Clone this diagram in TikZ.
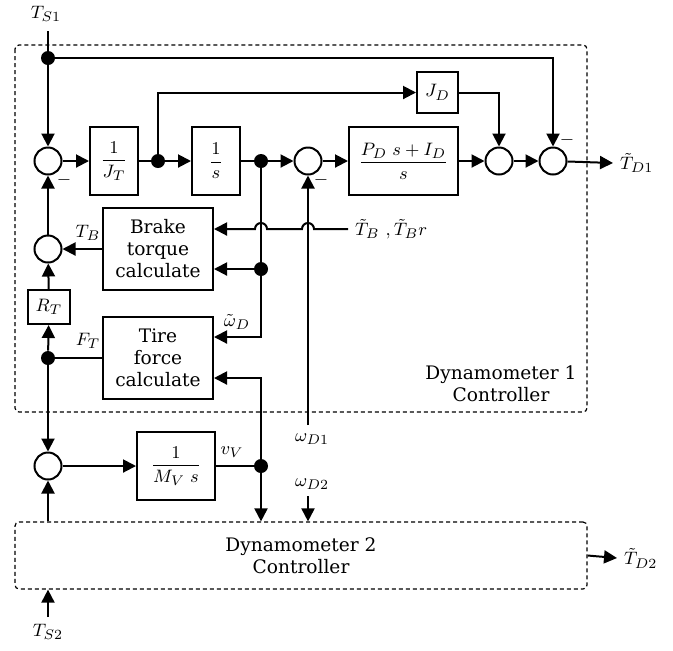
\documentclass[tikz,border=0pt]{standalone}
\usepackage{amsmath}
\usepackage{fontspec}
\setmainfont{DejaVu Serif}
\usetikzlibrary{arrows.meta}
\tikzset{blk/.style={draw,line width=1pt,inner sep=1pt,align=center},
sumc/.style={circle,draw,line width=1pt,minimum size=13.5pt,inner sep=0pt},
dot/.style={circle,fill,minimum size=7pt,inner sep=0pt},
wire/.style={line width=1pt},
sig/.style={-{Triangle[length=6.5pt,width=6.5pt]},line width=1pt},
ctrl/.style={draw,dash pattern=on 2pt off 1.5pt,line width=0.6pt,rounded corners=2pt}}

\begin{document}
\begin{tikzpicture}[x=0.5pt,y=-0.5pt,font=\fontsize{9.3pt}{11pt}\selectfont]
\useasboundingbox (0,0) rectangle (673,650);
\draw[ctrl] (15,45) rectangle (587,412);
\node[align=center] (dyn1) at (501,384) {Dynamometer 1\\Controller};
\node[ctrl,minimum width=286pt,minimum height=33.5pt,align=center] (dyn2) at (301,555.5) {Dynamometer 2\\Controller};
% summing junctions and branch points
\node[sumc] (s1) at (48,161) {};
\node[sumc] (s2) at (48,249) {};
\node[sumc] (s3) at (308,161) {};
\node[sumc] (s4) at (499,161) {};
\node[sumc] (s5) at (553,161) {};
\node[sumc] (s6) at (48,466) {};
\node[dot] (d1) at (48,58) {};
\node[dot] (d2) at (158,161) {};
\node[dot] (d3) at (261,161) {};
\node[dot] (d4) at (261,269) {};
\node[dot] (d5) at (48,358) {};
\node[dot] (d6) at (261,466) {};
% blocks
\node[blk,minimum width=24pt,minimum height=34pt] (JT) at (114,161) {$\dfrac{1}{J_T}$};
\node[blk,minimum width=24pt,minimum height=34pt] (Is) at (216,161) {$\dfrac{1}{s}$};
\node[blk,minimum width=54.5pt,minimum height=34pt] (PI) at (403.5,161) {$\dfrac{P_D\;s+I_D}{s}$};
\node[blk,minimum width=20.5pt,minimum height=20.5pt] (JD) at (437.5,92.5) {$J_D$};
\node[blk,minimum width=55pt,minimum height=41pt] (brake) at (158,249) {Brake\\torque\\calculate};
\node[blk,minimum width=55pt,minimum height=41pt] (tire) at (158,358) {Tire\\force\\calculate};
\node[blk,minimum width=21pt,minimum height=17pt] (RT) at (49,307) {$R_T$};
\node[blk,minimum width=39pt,minimum height=34pt] (MV) at (176,466) {$\dfrac{1}{M_V\;s}$};
% signal labels
\node (ts1) at (46,14) {$T_{S1}$};
\node (ts2) at (48,632) {$T_{S2}$};
\node[anchor=west] (td1) at (613,163) {$\tilde{T}_{D1}$};
\node[anchor=west] (td2) at (617,558) {$\tilde{T}_{D2}$};
\node (lTB) at (88,233) {$T_B$};
\node (lFT) at (88,341) {$F_T$};
\node (lwd) at (237,322) {$\tilde{\omega}_D$};
\node (lvv) at (232,452) {$v_V$};
\node[anchor=west] (ltb) at (348,229) {$\tilde{T}_B\ ,\tilde{T}_B r$};
\node (wd1) at (312,439) {$\omega_{D1}$};
\node (wd2) at (312,484) {$\omega_{D2}$};
\node at (64,180) {$-$};
\node at (321,180) {$-$};
\node at (567,140) {$-$};
\coordinate (in1) at (48,31);
\coordinate (in2) at (48,617);
\coordinate (w1) at (308,425);
\coordinate (w2) at (308,496);
% connectors
\draw[sig] (in1) -- (s1);
\draw[sig] (d1) -| (s5);
\draw[sig] (s1) -- (JT);
\draw[wire] (JT) -- (d2);
\draw[sig] (d2) -- (Is);
\draw[sig] (d2) |- (JD);
\draw[sig] (JD) -| (s4);
\draw[wire] (Is) -- (d3);
\draw[sig] (d3) -- (s3);
\draw[sig] (s3) -- (PI);
\draw[sig] (PI) -- (s4);
\draw[sig] (s4) -- (s5);
\draw[sig] (s5) -- (td1.west);
\draw[wire] (d3) -- (d4);
\draw[sig] (d4) -- (brake.east |- d4);
\draw[sig] (d4) |- ([yshift=10.5pt]tire.east);
\draw[sig] (ltb.west) -- (314,229) arc(0:-180:6) -- (267,229) arc(0:-180:6) -- (brake.east |- ltb);
\draw[sig] (w1) -- (s3);
\draw[sig] (brake) -- (s2);
\draw[sig] (s2) -- (s1);
\draw[sig] (RT) -- (s2);
\draw[sig] (d5) -- (RT);
\draw[wire] (tire) -- (d5);
\draw[sig] (d5) -- (s6);
\draw[sig] (s6 |- dyn2.north) -- (s6);
\draw[sig] (s6) -- (MV);
\draw[wire] (MV) -- (d6);
\draw[sig] (d6) |- ([yshift=-10pt]tire.east);
\draw[sig] (d6) -- (d6 |- dyn2.north);
\draw[sig] (w2) -- (w2 |- dyn2.north);
\draw[sig] (in2) -- (in2 |- dyn2.south);
\draw[sig] (dyn2.east) -- (td2.west);
\end{tikzpicture}
\end{document}
